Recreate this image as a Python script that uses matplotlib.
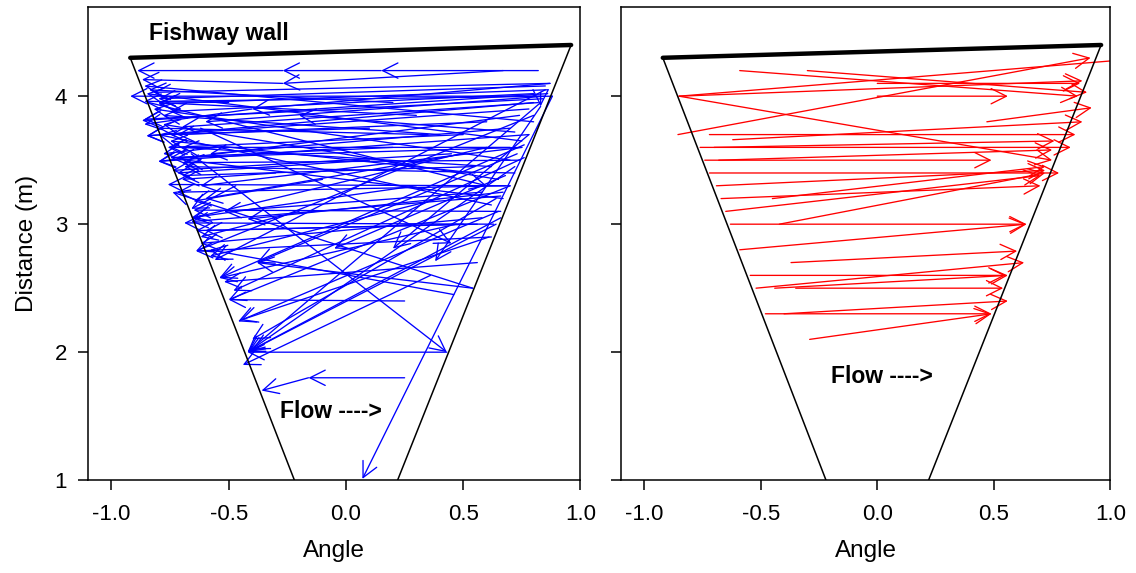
import matplotlib
matplotlib.use("Agg")
import matplotlib.pyplot as plt
from matplotlib.patches import FancyArrowPatch

plt.rcParams['font.family'] = ['Liberation Sans', 'DejaVu Sans']
plt.rcParams['axes.unicode_minus'] = False

# fishway outline (angle, distance)
fan_left_x = [-0.92, -0.22]
fan_left_y = [4.30, 1.00]
fan_right_x = [0.96, 0.22]
fan_right_y = [4.40, 1.00]
wall_x = [-0.92, 0.96]
wall_y = [4.30, 4.40]

x_ticks = [-1.0, -0.5, 0.0, 0.5, 1.0]
x_tick_labels = ["-1.0", "-0.5", "0.0", "0.5", "1.0"]
y_ticks = [1, 2, 3, 4]
y_tick_labels = ["1", "2", "3", "4"]

# blue movements: tail x, tail y, head x, head y
blue_x0 = [0.82, 0.15, -0.27, 0.67, -0.27, 0.87, 0.87, 0.83, 0.88, 0.85, 0.80, 0.84, 0.82, 0.85, 0.78, 0.86,
           0.78, 0.75, 0.74, 0.72, 0.70, 0.67, 0.66, 0.63, 0.62, 0.75, 0.70, 0.60, 0.50, 0.45, 0.55, 0.35, 0.20,
           0.85, 0.83, 0.80, 0.76, 0.72, 0.70, 0.65, 0.60, 0.73, 0.88, 0.83, 0.78, 0.67,
           -0.66, 0.43, 0.54, 0.54, 0.36, 0.25, 0.25, -0.16, 0.47, 0.61, 0.64, 0.66,
           -0.40, -0.47, -0.30, -0.20, -0.10, 0.10, 0.30, 0.40, 0.55, 0.65, 0.70, 0.62, 0.75, 0.80, 0.72, 0.58,
           0.68, 0.50, 0.83, -0.84, -0.62, 0.56,
           0.86, 0.80, 0.74, 0.70, 0.62, 0.68, 0.66, 0.58, 0.50, 0.40, 0.30, 0.20, 0.10, 0.76, 0.64, 0.56, 0.46,
           -0.50, -0.55]
blue_y0 = [4.20, 4.20, 4.20, 4.20, 4.10, 4.10, 4.10, 4.00, 4.00, 4.08, 4.02, 3.98, 3.95, 4.00, 3.90, 4.05,
           3.70, 3.60, 3.50, 3.40, 3.30, 3.20, 3.10, 3.00, 2.90, 3.60, 3.75, 3.80, 3.70, 3.55, 3.45, 3.70, 3.60,
           4.05, 3.95, 3.85, 3.62, 3.45, 3.30, 3.10, 3.60, 3.55, 4.00, 3.92, 3.70, 3.25,
           3.55, 2.00, 2.50, 2.50, 2.60, 2.40, 1.80, 1.80, 3.00, 2.90, 3.00, 3.05,
           3.90, 3.30, 3.40, 3.10, 3.35, 3.50, 3.30, 3.20, 3.40, 3.35, 3.50, 3.15, 3.65, 3.80, 3.72, 3.25,
           3.38, 3.55, 4.03, 3.95, 3.75, 3.00,
           4.02, 3.95, 3.85, 3.60, 3.45, 3.30, 3.22, 3.05, 3.00, 3.70, 3.85, 3.95, 3.75, 3.52, 3.20, 2.70, 2.45,
           3.95, 3.60]
blue_x1 = [0.15, -0.27, -0.89, -0.27, -0.87, -0.82, -0.40, -0.92, -0.78, -0.80, -0.75, -0.86, -0.70, -0.60, -0.85, -0.80,
           -0.80, -0.72, -0.70, -0.69, -0.76, -0.68, -0.65, -0.69, -0.64, -0.62, -0.58, -0.72, -0.75, -0.74, -0.70, -0.80, -0.75,
           -0.56, -0.42, -0.64, -0.54, -0.42, -0.50, -0.46, -0.65, -0.38, 0.07, 0.38, 0.20, -0.42,
           0.43, -0.42, -0.38, -0.74, -0.44, -0.50, -0.16, -0.36, -0.54, -0.45, -0.42, -0.40,
           -0.86, -0.66, -0.70, -0.62, -0.65, -0.72, -0.66, -0.58, -0.75, -0.78, -0.82, -0.80, -0.85, -0.86, -0.20, -0.52,
           -0.05, -0.60, 0.83, 0.60, 0.45, -0.64,
           -0.87, -0.85, -0.80, -0.76, -0.70, -0.72, -0.66, -0.62, -0.60, -0.78, -0.80, -0.84, -0.75, -0.48, -0.40, -0.52, -0.58,
           -0.86, -0.78]
blue_y1 = [4.20, 4.20, 4.20, 4.10, 4.13, 4.03, 3.90, 4.00, 3.96, 3.98, 3.88, 3.82, 3.76, 3.80, 3.69, 3.94,
           3.49, 3.52, 3.48, 3.45, 3.31, 3.50, 3.11, 3.01, 2.79, 3.30, 3.55, 3.70, 3.60, 3.42, 3.38, 3.75, 3.52,
           2.72, 2.00, 2.79, 2.58, 2.00, 2.41, 2.24, 3.05, 2.70, 1.01, 2.71, 2.81, 3.04,
           2.00, 2.00, 2.70, 3.25, 1.90, 2.41, 1.80, 1.70, 2.58, 2.25, 2.00, 2.02,
           3.78, 3.12, 3.35, 2.90, 3.18, 3.40, 3.05, 2.75, 3.65, 3.78, 3.90, 3.70, 4.02, 4.08, 3.85, 3.10,
           2.81, 3.20, 3.92, 3.30, 2.85, 2.95,
           3.81, 3.69, 3.49, 3.60, 3.60, 3.25, 3.02, 2.85, 2.95, 3.85, 3.95, 4.05, 3.70, 2.48, 2.10, 2.55, 2.80,
           3.96, 3.55]

# red movements: tail x, tail y, head x, head y
red_x0 = [-0.59, -0.30, 0.00, -0.85, -0.85, -0.85, 0.00, 0.47, -0.855, -0.72, -0.62, -0.76, -0.70, -0.74, -0.68,
          -0.72, -0.69, -0.67, -0.45, -0.65, -0.63, -0.42, -0.59, -0.37, -0.545, -0.52, -0.44, -0.35, -0.48, -0.40, -0.29]
red_y0 = [4.20, 4.20, 4.10, 4.00, 4.00, 4.00, 4.00, 3.80, 3.70, 3.70, 3.66, 3.60, 3.60, 3.50, 3.50,
          3.40, 3.30, 3.20, 3.20, 3.10, 3.00, 3.00, 2.80, 2.70, 2.60, 2.50, 2.50, 2.50, 2.30, 2.30, 2.10]
red_x1 = [0.86, 0.90, 0.87, 1.10, 0.88, 0.75, 0.56, 0.92, 0.915, 0.85, 0.88, 0.83, 0.76, 0.49, 0.75,
          0.78, 0.72, 0.70, 0.72, 0.70, 0.64, 0.72, 0.64, 0.60, 0.55, 0.63, 0.56, 0.54, 0.49, 0.56, 0.49]
red_y1 = [4.00, 4.03, 4.10, 4.29, 4.12, 3.50, 4.00, 3.91, 4.30, 3.70, 3.80, 3.60, 3.65, 3.50, 3.58,
          3.40, 3.42, 3.30, 3.45, 3.38, 3.00, 3.40, 3.00, 2.79, 2.60, 2.70, 2.60, 2.50, 2.30, 2.40, 2.30]

fig = plt.figure(figsize=(11.36, 5.73), dpi=100)
ax1 = fig.add_axes([0.0775, 0.162, 0.4335, 0.8265])
ax2 = fig.add_axes([0.5465, 0.162, 0.4310, 0.8265])

style = "->,head_length=11,head_width=5.5"

def draw_panel(ax, xs0, ys0, xs1, ys1, color, flow_xy, wall_label):
    ax.plot(fan_left_x, fan_left_y, color='black', lw=1.1, zorder=3)
    ax.plot(fan_right_x, fan_right_y, color='black', lw=1.1, zorder=3)
    ax.plot(wall_x, wall_y, color='black', lw=3.2, solid_capstyle='round', zorder=4)
    for a, b, c, d in zip(xs0, ys0, xs1, ys1):
        p = FancyArrowPatch((a, b), (c, d), arrowstyle=style, mutation_scale=1,
                            color=color, lw=0.95, shrinkA=0, shrinkB=0, zorder=2)
        ax.add_patch(p)
    ax.text(flow_xy[0], flow_xy[1], "Flow ---->", fontsize=16.5, fontweight='bold',
            ha='left', va='center')
    if wall_label:
        ax.text(-0.84, 4.49, "Fishway wall", fontsize=16.5, fontweight='bold',
                ha='left', va='center')
    ax.set_xlim(-1.1, 1.0)
    ax.set_ylim(1.0, 4.7)
    ax.set_xticks(x_ticks)
    ax.set_xticklabels(x_tick_labels)
    ax.set_yticks(y_ticks)
    ax.tick_params(direction='out', length=7, width=1.1, labelsize=16, pad=10)
    for s in ax.spines.values():
        s.set_linewidth(1.1)
    ax.set_xlabel("Angle", fontsize=17.5, labelpad=11)

draw_panel(ax1, blue_x0, blue_y0, blue_x1, blue_y1, 'blue', (-0.28, 1.54), True)
draw_panel(ax2, red_x0, red_y0, red_x1, red_y1, 'red', (-0.20, 1.81), False)
ax1.set_yticklabels(y_tick_labels)
ax2.set_yticklabels([])
ax1.tick_params(axis='y', pad=8)
ax1.set_ylabel("Distance (m)", fontsize=17.5, labelpad=12)

fig.savefig("out.png", dpi=100)
